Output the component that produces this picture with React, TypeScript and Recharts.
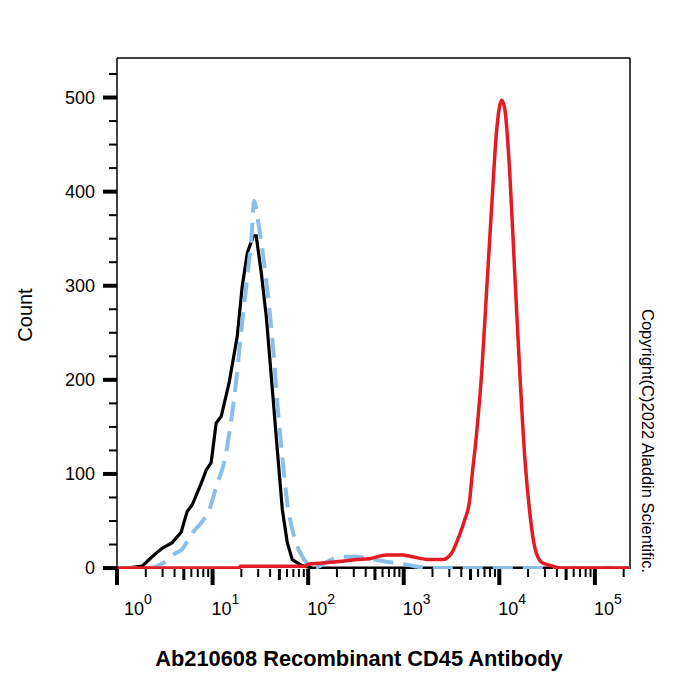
import React from 'react';
import { LineChart, Line, XAxis, YAxis, ReferenceLine } from 'recharts';

const FONT = '"Liberation Sans", Arial, Helvetica, sans-serif';

// Fluorescence intensity (x) and event count (y) for each histogram
const blankIntensity = [1, 1.27, 1.83, 2.33, 2.96, 3.78, 4.69, 5.42, 6.11, 7.6, 8.57, 9.66, 10.9, 12.3, 14.9, 18.1, 20.4, 23.1, 26.7, 28.6, 32.3, 36.5, 42.2, 47.5, 53.7, 60.5, 68.2, 84.9, 110, 233000];
const blankCount = [0, 0, 2, 12, 21, 27, 38, 60, 67, 90, 104, 112, 154, 161, 197, 246, 299, 335, 353, 353, 314, 267, 190, 126, 62, 27, 9, 3, 0, 0];

const isotypeIntensity = [1, 2.16, 3.11, 4.15, 4.69, 6.11, 7.6, 9.21, 11.2, 13.2, 15.7, 17.7, 20.4, 23.1, 25.4, 27.3, 30.1, 33.9, 38.3, 43.2, 47.5, 53.7, 60.5, 71.7, 86.9, 103, 122, 167, 212, 305, 438, 630, 904, 1297, 1862, 233000];
const isotypeCount = [0, 0, 6, 16, 19, 37, 48, 62, 90, 112, 158, 200, 261, 310, 349, 390, 367, 331, 285, 232, 176, 118, 69, 33, 12, 3, 1, 8, 12, 12, 10, 7, 5, 2, 0, 0];

const cd45Intensity = [1, 19, 19.5, 93, 100, 131, 212, 320, 438, 661, 971, 1237, 1862, 2553, 3170, 3664, 4339, 4894, 5140, 5797, 6545, 7379, 8318, 9397, 10595, 11400, 12850, 14490, 16370, 18460, 20840, 23500, 27800, 33700, 43000, 233000];
const cd45Count = [0, 0, 2, 2, 4, 5, 7, 9, 10, 14, 14, 12, 9, 9, 16, 30, 51, 72, 94, 144, 208, 296, 384, 466, 497, 488, 421, 314, 208, 118, 59, 22, 6, 3, 0, 0];

// Axis ranges and tick values
const X_MIN = 1;
const X_MAX = 233000;
const Y_MIN = -1;
const Y_MAX = 542;
const xDecadeExponents = ['0', '1', '2', '3', '4', '5'];
const xMantissas = [1, 2, 3, 4, 5, 6, 7, 8, 9];
const yTicks = [0, 25, 50, 75, 100, 125, 150, 175, 200, 225, 250, 275, 300, 325, 350, 375, 400, 425, 450, 475, 500, 525];

const toPoints = (xs: number[], ys: number[]) => xs.map((x, i) => ({ x, y: ys[i] }));
const blankData = toPoints(blankIntensity, blankCount);
const isotypeData = toPoints(isotypeIntensity, isotypeCount);
const cd45Data = toPoints(cd45Intensity, cd45Count);

type TickKind = 'decade' | 'half' | 'minor';
const xTicks: number[] = [];
const xTickKind = new Map<number, { kind: TickKind; exp: string }>();
xDecadeExponents.forEach((exp, d) => {
  xMantissas.forEach((m) => {
    const v = m * Math.pow(10, d);
    if (v > X_MAX) return;
    xTicks.push(v);
    xTickKind.set(v, { kind: m === 1 ? 'decade' : m === 5 ? 'half' : 'minor', exp });
  });
});

const XTick = (props: any) => {
  const { x, y, payload } = props;
  const info = xTickKind.get(payload.value) || { kind: 'minor', exp: '' };
  const len = info.kind === 'decade' ? 16 : info.kind === 'half' ? 11 : 8;
  const w = info.kind === 'decade' ? 4 : info.kind === 'half' ? 3 : 2;
  // keep the first label clear of the y-axis corner
  const dx = info.exp === '0' ? 7 : -1;
  return (
    <g>
      <line x1={x} x2={x} y1={y} y2={y + len} stroke="#000" strokeWidth={w} />
      {info.kind === 'decade' && (
        <text x={x + dx} y={y + 46} fontFamily={FONT} fontSize={18} fill="#000" textAnchor="start">
          <tspan>10</tspan>
          <tspan dy={-11} fontSize={14}>{info.exp}</tspan>
        </text>
      )}
    </g>
  );
};

const YTick = (props: any) => {
  const { x, y, payload } = props;
  const v = payload.value as number;
  const major = v % 100 === 0;
  const len = major ? 14 : 8;
  const w = major ? 4 : 2;
  return (
    <g>
      <line x1={x - len} x2={x} y1={y} y2={y} stroke="#000" strokeWidth={w} />
      {major && (
        <text x={x - 22} y={y} dy="0.35em" fontFamily={FONT} fontSize={18} fill="#000" textAnchor="end">
          {v}
        </text>
      )}
    </g>
  );
};

export default function App() {
  return (
    <div style={{ position: 'absolute', left: 0, top: 0, width: 700, height: 700, background: '#fff' }}>
      <LineChart width={700} height={700} margin={{ top: 58, right: 70, bottom: 91, left: 57 }}>
        <XAxis
          dataKey="x"
          type="number"
          scale="log"
          domain={[X_MIN, X_MAX]}
          allowDataOverflow
          ticks={xTicks}
          interval={0}
          tick={<XTick />}
          tickLine={false}
          tickSize={0}
          tickMargin={0}
          axisLine={false}
          height={40}
        />
        <YAxis
          type="number"
          domain={[Y_MIN, Y_MAX]}
          allowDataOverflow
          ticks={yTicks}
          interval={0}
          tick={<YTick />}
          tickLine={false}
          tickSize={0}
          tickMargin={0}
          axisLine={{ stroke: '#000', strokeWidth: 1.5 }}
          width={60}
        />
        <ReferenceLine y={Y_MAX} stroke="#000" strokeWidth={1.5} />
        <ReferenceLine x={X_MAX} stroke="#000" strokeWidth={1.5} />
        <Line data={blankData} dataKey="y" type="linear" stroke="#000" strokeWidth={3.2} dot={false} activeDot={false} isAnimationActive={false} />
        <Line data={isotypeData} dataKey="y" type="monotone" stroke="#8bbfea" strokeWidth={4} strokeDasharray="20 10" dot={false} activeDot={false} isAnimationActive={false} />
        <Line data={cd45Data} dataKey="y" type="monotone" stroke="#e31b23" strokeWidth={3.5} dot={false} activeDot={false} isAnimationActive={false} />
      </LineChart>
      <svg width={700} height={700} style={{ position: 'absolute', left: 0, top: 0, pointerEvents: 'none' }}>
        <text transform="translate(25,315) rotate(-90)" textAnchor="middle" dy="0.35em" fontFamily={FONT} fontSize={20} fill="#000">
          Count
        </text>
        <text x={359} y={666} textAnchor="middle" fontFamily={FONT} fontSize={21.8} fontWeight="bold" fill="#000">
          Ab210608 Recombinant CD45 Antibody
        </text>
        <text transform="translate(642,309) rotate(90)" textAnchor="start" fontFamily={FONT} fontSize={16.5} fill="#000">
          Copyright(C)2022 Aladdin Scientific.
        </text>
      </svg>
    </div>
  );
}
